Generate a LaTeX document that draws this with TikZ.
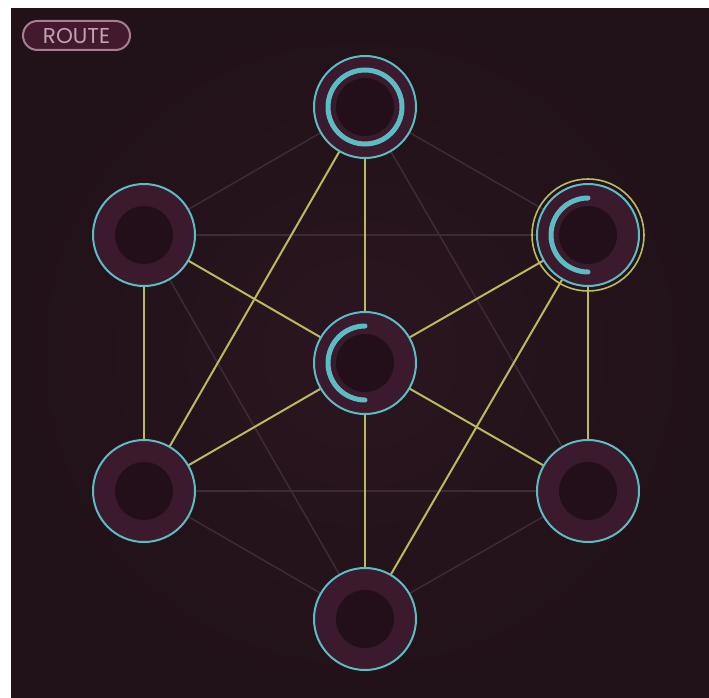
\documentclass[tikz,border=0pt]{standalone}
\usepackage{fontspec}
\setmainfont{Poppins}
\definecolor{bgdark}{HTML}{211118}
\definecolor{bglight}{HTML}{2A1620}
\definecolor{ringfill}{HTML}{3A1A2C}
\definecolor{hole}{HTML}{230F19}
\definecolor{cyanc}{HTML}{5BBCC4}
\definecolor{linky}{HTML}{B9BC5C}
\definecolor{faint}{HTML}{3F2A37}
\definecolor{pillfill}{HTML}{43192F}
\definecolor{pilldraw}{HTML}{A57F8F}
\definecolor{pilltext}{HTML}{C2A3B1}
\pgfdeclarelayer{bg}
\pgfdeclarelayer{edges}
\pgfsetlayers{bg,edges,main}
\tikzset{
  knob/.style={circle, fill=ringfill, draw=cyanc, line width=2pt, minimum size=102pt, inner sep=0pt},
  active/.style={draw=linky, line width=2pt},
  idle/.style={draw=faint, line width=1.5pt},
  holefill/.style={fill=hole},
  meter/.style={draw=cyanc, line width=5pt, line cap=round},
}
\begin{document}
\begin{tikzpicture}[x=1pt,y=-1pt]
\useasboundingbox (0,0) rectangle (709,698);
% nodes
\node[knob] (t) at (365,107) {};
\node[knob] (ul) at (144,235) {};
\node[knob] (ur) at (588,235) {};
\node[knob] (c) at (365,363) {};
\node[knob] (ll) at (144,491) {};
\node[knob] (lr) at (588,491) {};
\node[knob] (b) at (365,619) {};
\foreach \n in {t,ul,ur,c,ll,lr,b}{
  \fill[holefill] (\n.center) circle (29pt);
}
\draw[meter] (t.center) circle (37pt);
\draw[meter] ([shift={(90:37pt)}]c.center) arc[start angle=90, end angle=270, radius=37pt];
\draw[meter] ([shift={(90:37pt)}]ur.center) arc[start angle=90, end angle=270, radius=37pt];
\draw[draw=linky, line width=1.6pt] (ur.center) circle (56pt);
% route label
\node[draw=pilldraw, fill=pillfill, line width=2pt, rounded corners=14.5pt,
  minimum width=107pt, minimum height=29pt, inner sep=0pt, text=pilltext, font=\fontsize{21.5}{21.5}\selectfont] (route) at (76.5,35.5) {ROUTE};
\begin{pgfonlayer}{bg}
  \fill[white] (0,0) rectangle (709,698);
  \shade[inner color=bglight, outer color=bgdark] (11,9) rectangle (709,698);
\end{pgfonlayer}
\begin{pgfonlayer}{edges}
  \path[idle] (t.center) -- (ul.center);
  \path[idle] (t.center) -- (ur.center);
  \path[idle] (t.center) -- (lr.center);
  \path[idle] (ul.center) -- (ur.center);
  \path[idle] (ul.center) -- (b.center);
  \path[idle] (ll.center) -- (lr.center);
  \path[idle] (ll.center) -- (b.center);
  \path[idle] (lr.center) -- (b.center);
  \path[active] (t.center) -- (c.center);
  \path[active] (t.center) -- (ll.center);
  \path[active] (ul.center) -- (c.center);
  \path[active] (ul.center) -- (ll.center);
  \path[active] (ur.center) -- (c.center);
  \path[active] (ur.center) -- (lr.center);
  \path[active] (ur.center) -- (b.center);
  \path[active] (c.center) -- (ll.center);
  \path[active] (c.center) -- (lr.center);
  \path[active] (c.center) -- (b.center);
\end{pgfonlayer}
\end{tikzpicture}
\end{document}
